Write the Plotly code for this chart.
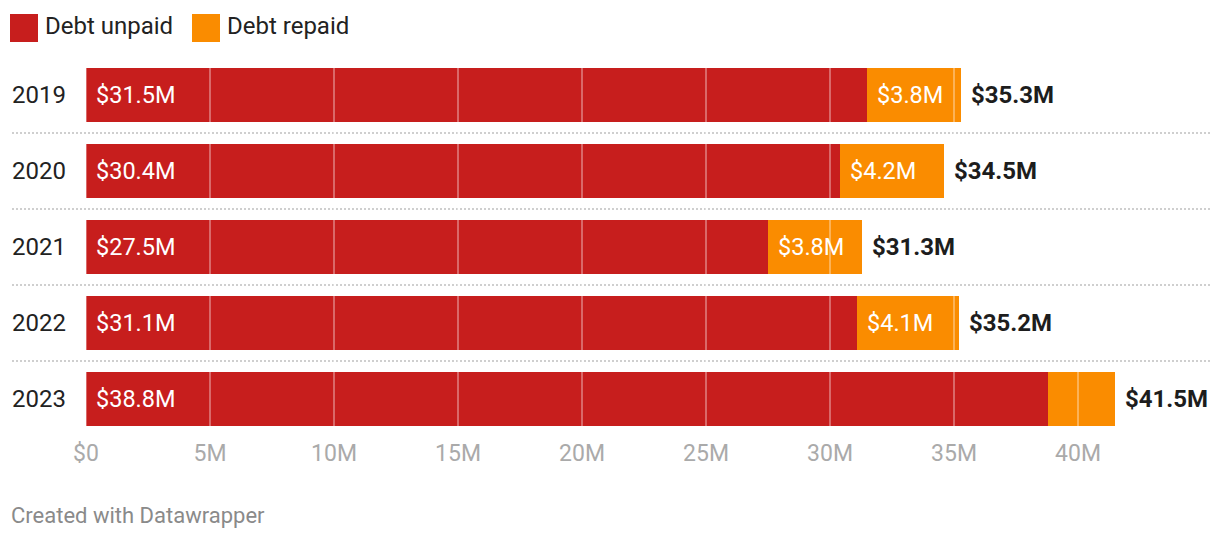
import plotly.graph_objects as go

years = ["2019", "2020", "2021", "2022", "2023"]
unpaid = [31.5, 30.4, 27.5, 31.1, 38.8]
repaid = [3.8, 4.2, 3.8, 4.1, 2.7]
totals = [35.3, 34.5, 31.3, 35.2, 41.5]
repaid_label_shown = [True, True, True, True, False]
x_tick_vals = [0, 5, 10, 15, 20, 25, 30, 35, 40]
x_tick_text = ["$0", "5M", "10M", "15M", "20M", "25M", "30M", "35M", "40M"]
series_names = ["Debt unpaid", "Debt repaid"]

RED = "#c71e1d"
ORANGE = "#fa8c00"
FONT = "Roboto"
W, H = 1220, 540
ML, MR, MT, MB = 86, 10, 57, 103
PW = W - ML - MR
PH = H - MT - MB
PX_PER_M = 24.8
XMAX = PW / PX_PER_M


def px_x(p):
    return (p - ML) / PW


def px_y(p):
    return (H - MB - p) / PH


def ann(**kw):
    d = dict(showarrow=False, borderpad=0, borderwidth=0)
    d.update(kw)
    return d


fig = go.Figure()
fig.add_trace(go.Bar(y=years, x=unpaid, orientation="h", name=series_names[0],
                     marker=dict(color=RED, line=dict(width=0)), hoverinfo="x+y"))
fig.add_trace(go.Bar(y=years, x=repaid, orientation="h", name=series_names[1],
                     marker=dict(color=ORANGE, line=dict(width=0)), hoverinfo="x+y"))

annotations = []
for i, yr in enumerate(years):
    # year label
    annotations.append(ann(x=px_x(12), xref="paper", y=i, yref="y", text=yr,
                           xanchor="left", yanchor="middle",
                           font=dict(family=FONT, size=24, color="#222222")))
    # unpaid label
    annotations.append(ann(x=0, xref="x", y=i, yref="y", text=f"${unpaid[i]:.1f}M",
                           xanchor="left", yanchor="middle", xshift=10,
                           font=dict(family=FONT, size=23.5, color="#ffffff")))
    if repaid_label_shown[i]:
        annotations.append(ann(x=unpaid[i], xref="x", y=i, yref="y",
                               text=f"${repaid[i]:.1f}M",
                               xanchor="left", yanchor="middle", xshift=10,
                               font=dict(family=FONT, size=23.5, color="#ffffff")))
    annotations.append(ann(x=unpaid[i] + repaid[i], xref="x", y=i, yref="y",
                           text=f"<b>${totals[i]:.1f}M</b>",
                           xanchor="left", yanchor="middle", xshift=10,
                           font=dict(family=FONT, size=24, color="#1d1d1d")))

# legend (manual)
legend_items = [(10, 45, RED), (192, 227, ORANGE)]
shapes = []
for (sx, tx, col), name in zip(legend_items, series_names):
    shapes.append(dict(type="rect", xref="paper", yref="paper",
                       x0=px_x(sx), x1=px_x(sx + 28), y0=px_y(42), y1=px_y(14),
                       fillcolor=col, line=dict(width=0)))
    annotations.append(ann(x=px_x(tx), y=px_y(26), xref="paper", yref="paper",
                           text=name, xanchor="left", yanchor="middle",
                           font=dict(family=FONT, size=24, color="#222222")))

annotations.append(ann(x=px_x(11), y=px_y(515), xref="paper", yref="paper",
                       text="Created with Datawrapper", xanchor="left", yanchor="middle",
                       font=dict(family=FONT, size=22, color="#8a8a8a")))

# row separators
for i in range(len(years) - 1):
    shapes.append(dict(type="line", xref="paper", yref="y", x0=px_x(12), x1=1,
                       y0=i + 0.5, y1=i + 0.5, layer="below",
                       line=dict(color="#cfcfcf", width=2, dash="2px,2px")))

# grid lines over bars
for t in x_tick_vals:
    shapes.append(dict(type="line", xref="x", yref="paper", x0=t, x1=t, y0=0, y1=1,
                       layer="above", line=dict(color="rgba(255,255,255,0.45)", width=1.5)))

fig.update_layout(
    width=W, height=H,
    margin=dict(l=ML, r=MR, t=MT, b=MB, pad=0),
    barmode="stack", bargap=22 / 76,
    plot_bgcolor="white", paper_bgcolor="white",
    showlegend=False,
    annotations=annotations, shapes=shapes,
    font=dict(family=FONT),
    xaxis=dict(range=[0, XMAX], tickvals=x_tick_vals, ticktext=x_tick_text,
               showgrid=False, zeroline=False, showline=False, ticks="",
               tickfont=dict(family=FONT, size=23, color="#aaaaaa")),
    yaxis=dict(type="category", categoryorder="array", categoryarray=years,
               range=[len(years) - 0.5, -0.5], showticklabels=False,
               showgrid=False, zeroline=False, showline=False, ticks=""),
)

fig.write_html("out.html", config={"displayModeBar": False},
               post_script="document.body.style.margin='0';")
